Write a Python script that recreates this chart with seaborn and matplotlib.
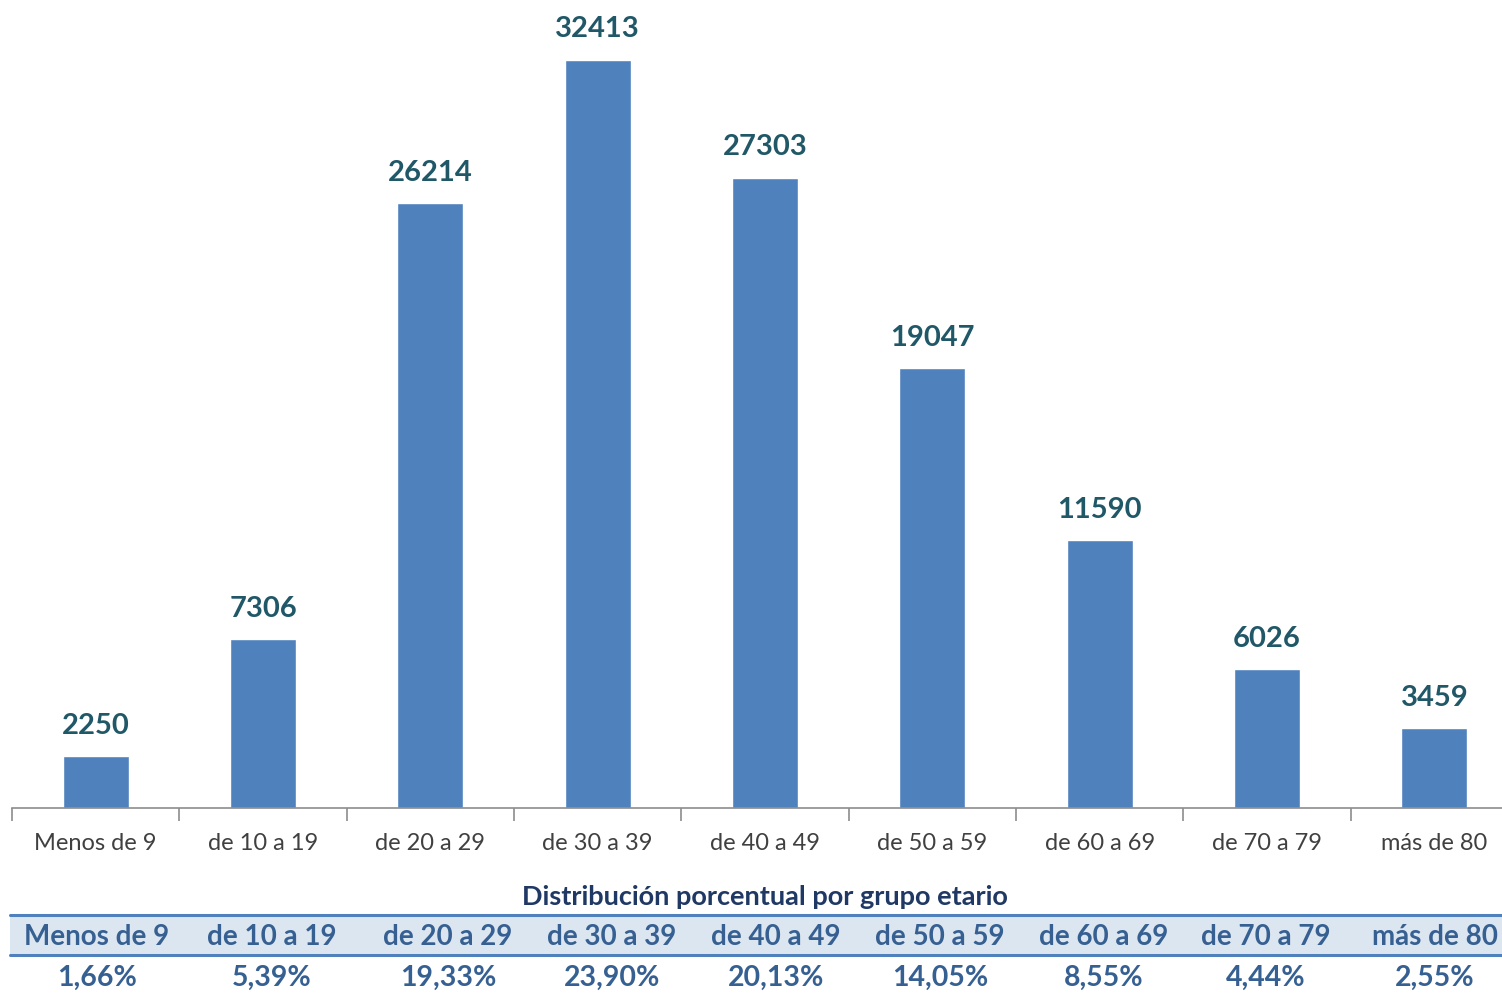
import pandas as pd
import seaborn as sns
import matplotlib.pyplot as plt

grupos = ['Menos de 9', 'de 10 a 19', 'de 20 a 29', 'de 30 a 39', 'de 40 a 49',
          'de 50 a 59', 'de 60 a 69', 'de 70 a 79', 'más de 80']
casos = [2250, 7306, 26214, 32413, 27303, 19047, 11590, 6026, 3459]
porcentajes = ['1,66%', '5,39%', '19,33%', '23,90%', '20,13%',
               '14,05%', '8,55%', '4,44%', '2,55%']
titulo_tabla = 'Distribución porcentual por grupo etario'

sns.set_style('white')
plt.rcParams['font.family'] = ['Lato', 'DejaVu Sans']

bar_color = '#4F81BD'
label_color = '#215868'
tabla_color = '#366092'

df = pd.DataFrame({'grupo': grupos, 'casos': casos})

W, H = 1502, 994
fig = plt.figure(figsize=(W / 100, H / 100), dpi=100)
ax = fig.add_axes([12 / W, (H - 808) / H, (1502 - 12) / W, 808 / H])

sns.barplot(data=df, x='grupo', y='casos', color=bar_color, width=0.395,
            saturation=1, ax=ax)
ax.set_ylim(0, 35000)
# el último grupo queda parcialmente fuera del borde derecho
ax.set_xlim(-0.5, len(grupos) - 0.5 - 16 / 167)
ax.set_xlabel('')
ax.set_ylabel('')
ax.set_yticks([])
for s in ['top', 'right', 'left']:
    ax.spines[s].set_visible(False)
ax.spines['bottom'].set_color('#8c8c8c')
ax.spines['bottom'].set_linewidth(1.2)

ax.set_xticks(range(len(grupos)))
ax.set_xticklabels(grupos, fontsize=17, color='#404040')
ax.tick_params(axis='x', which='major', length=0, pad=18)
ax.set_xticks([i - 0.5 for i in range(len(grupos))], minor=True)
ax.tick_params(axis='x', which='minor', length=9, width=1.2, color='#8c8c8c',
               direction='out', bottom=True)

for i, v in enumerate(casos):
    ax.text(i, v + 750, str(v), ha='center', va='bottom', fontsize=21,
            fontweight='bold', color=label_color)

# tabla de distribución porcentual
fig.text(765 / W, 1 - 897 / H, titulo_tabla, ha='center', va='center',
         fontsize=19.5, fontweight='bold', color='#1F3864')
fig.patches.append(plt.Rectangle((10 / W, 1 - 955 / H), (1502 - 10) / W, 40 / H,
                                 transform=fig.transFigure, facecolor='#DCE6F1',
                                 edgecolor='none'))
for yy in [915, 955]:
    fig.add_artist(plt.Line2D([10 / W, 1502 / W], [1 - yy / H, 1 - yy / H],
                              color=bar_color, linewidth=2.2))
centros = [97, 272, 448, 612, 776, 940, 1104, 1266, 1435]
for cx, g, p in zip(centros, grupos, porcentajes):
    fig.text(cx / W, 1 - 937 / H, g, ha='center', va='center', fontsize=20,
             fontweight='bold', color=tabla_color)
    fig.text(cx / W, 1 - 978 / H, p, ha='center', va='center', fontsize=20.5,
             fontweight='bold', color=tabla_color)

fig.savefig('out.png', dpi=100)
